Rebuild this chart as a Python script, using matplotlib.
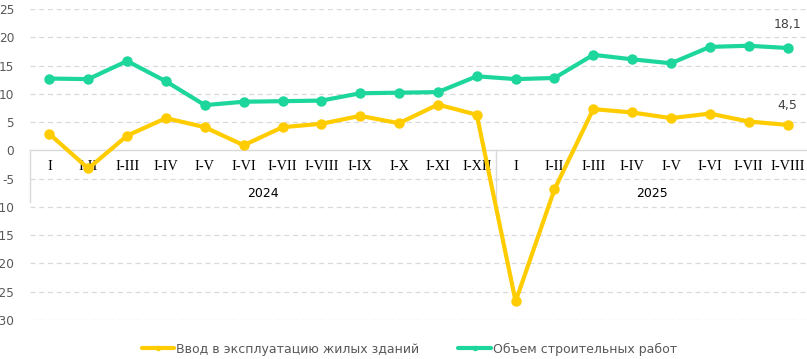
import matplotlib
matplotlib.use("Agg")
import matplotlib.pyplot as plt
import numpy as np

categories = ["I", "I-II", "I-III", "I-IV", "I-V", "I-VI", "I-VII", "I-VIII", "I-IX", "I-X", "I-XI", "I-XII",
              "I", "I-II", "I-III", "I-IV", "I-V", "I-VI", "I-VII", "I-VIII"]
years = ["2024", "2025"]
year_counts = [12, 8]
housing = [2.9, -3.2, 2.6, 5.7, 4.1, 0.9, 4.1, 4.7, 6.1, 4.8, 8.1, 6.3,
           -26.7, -6.9, 7.3, 6.7, 5.7, 6.5, 5.1, 4.5]
construction = [12.7, 12.6, 15.8, 12.2, 8.0, 8.6, 8.7, 8.8, 10.1, 10.2, 10.3, 13.1,
                12.6, 12.8, 16.9, 16.1, 15.4, 18.3, 18.5, 18.1]
series_names = ["Ввод в эксплуатацию жилых зданий", "Объем строительных работ"]
yellow = "#FFCC00"
green = "#1DD69C"

fig = plt.figure(figsize=(8.07, 3.59), dpi=100)
ax = fig.add_axes([30 / 807, 1 - 320 / 359, 1 - 30 / 807, (320 - 9) / 359])
x = np.arange(len(categories))

ax.set_xlim(-0.5, len(categories) - 0.5)
ax.set_ylim(-30, 25)
yt = np.arange(-30, 26, 5)
ax.set_yticks(yt)
ax.set_yticklabels([str(v) for v in yt], fontsize=8.7, color="#595959")
ax.tick_params(axis="y", length=0, pad=11.5)
ax.set_xticks([])
for s in ax.spines.values():
    s.set_visible(False)
for v in yt:
    if v != 0:
        ax.axhline(v, color="#d9d9d9", lw=0.9, ls=(0, (4, 3)), zorder=0)
ax.axhline(0, color="#d9d9d9", lw=1.0, zorder=1)

# category box lines
box_bottom = -9.2
ax.plot([-0.5, -0.5], [0, box_bottom], color="#d9d9d9", lw=1.0, clip_on=False, zorder=1)
ax.plot([11.5, 11.5], [0, box_bottom], color="#d9d9d9", lw=1.0, clip_on=False, zorder=1)

for i, c in enumerate(categories):
    ax.text(i, -2.9, c, ha="center", va="center", fontsize=10.3, family="Liberation Serif", color="black", zorder=2)
start = 0
for yr, n in zip(years, year_counts):
    ax.text(start + (n - 1) / 2, -7.6, yr, ha="center", va="center", fontsize=9, color="black")
    start += n

l1, = ax.plot(x, housing, color=yellow, lw=3, marker="o", ms=6.5, zorder=3, solid_capstyle="round")
l2, = ax.plot(x, construction, color=green, lw=3, marker="o", ms=6.5, zorder=3, solid_capstyle="round")

ax.annotate("18,1", (x[-1], construction[-1]), xytext=(0, 12), textcoords="offset points",
            ha="center", va="bottom", fontsize=9, color="#404040")
ax.annotate("4,5", (x[-1], housing[-1]), xytext=(0, 9), textcoords="offset points",
            ha="center", va="bottom", fontsize=9, color="#404040")

leg = fig.legend([l1, l2], series_names, loc="center", bbox_to_anchor=(0.5 + 6 / 807, 1 - 349 / 359), ncol=2,
                 frameon=False, fontsize=9, labelcolor="#595959", handlelength=2.6, handletextpad=0.2,
                 columnspacing=3.1, markerscale=0.45)

fig.savefig("out.png", dpi=100)
